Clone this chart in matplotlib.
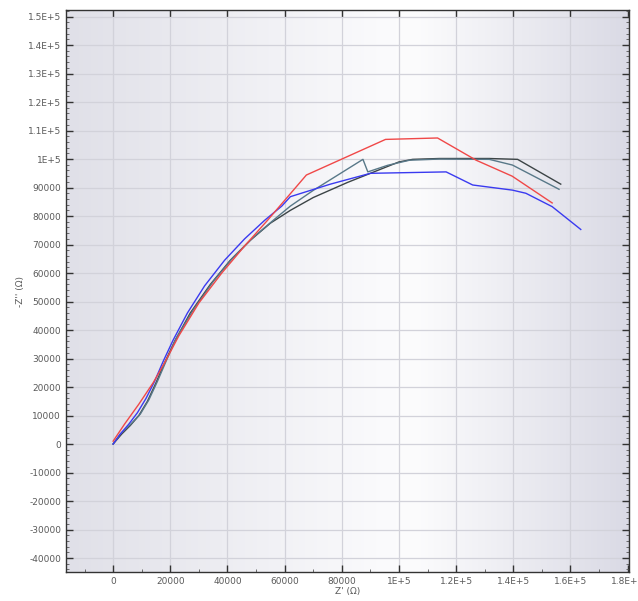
import numpy as np
import matplotlib
matplotlib.use("Agg")
import matplotlib.pyplot as plt
from matplotlib.ticker import MultipleLocator
from matplotlib.colors import LinearSegmentedColormap

# ---- data (Z' , -Z'') ----
red_x = [0, 4000, 9000, 14000, 18000, 23000, 30000, 38000, 46000, 54000, 60000, 67600, 95300, 113500, 127000, 139600, 153600]
red_y = [1000, 7000, 14000, 21500, 28500, 38000, 49500, 60000, 69500, 78500, 85500, 94400, 106900, 107400, 99600, 94000, 84600]

blue_x = [0, 2500, 5500, 8500, 11500, 14500, 17500, 21000, 26000, 32000, 39000, 46000, 53000, 59000, 62000, 76000, 90000, 116500, 125800, 139700, 144400, 153600, 163600]
blue_y = [0, 3500, 7000, 11000, 16000, 22000, 29000, 36500, 46000, 55500, 64500, 72000, 78500, 83500, 86800, 91200, 95000, 95500, 90900, 89100, 88000, 83300, 75300]

dark_x = [0, 3000, 6000, 9000, 12000, 15000, 18000, 21500, 27000, 34000, 41000, 48000, 55000, 62000, 70000, 82000, 92000, 100000, 104800, 114100, 131600, 141500, 156600]
dark_y = [0, 3500, 6500, 10000, 15000, 21500, 28500, 36000, 46000, 56000, 64500, 71500, 77500, 82000, 86500, 91800, 95800, 99000, 99900, 100200, 100200, 99900, 91200]

slate_x = [0, 2500, 6000, 9500, 12500, 15500, 18500, 22000, 28000, 35000, 42000, 49000, 56000, 62000, 70000, 87400, 89100, 96000, 103700, 114100, 131600, 139700, 156000]
slate_y = [0, 3500, 6800, 10500, 15500, 22000, 29000, 37000, 47000, 57000, 65500, 72500, 78500, 83500, 89000, 99900, 95500, 97800, 99600, 100000, 99900, 97900, 89400]

x_ticks = [0, 20000, 40000, 60000, 80000, 100000, 120000, 140000, 160000, 180000]
x_labels = ["0", "20000", "40000", "60000", "80000", "1E+5", "1.2E+5", "1.4E+5", "1.6E+5", "1.8E+5"]
y_ticks = list(range(-40000, 150001, 10000))
y_labels = [("%d" % v if abs(v) < 100000 else ("1E+5" if v == 100000 else "%.1fE+5" % (v / 100000))) for v in y_ticks]

fig = plt.figure(figsize=(6.38, 6.01), dpi=100)
ax = fig.add_axes([0.1034, 0.0483, 0.8826, 0.935])

xmin, xmax = -16500, 180500
ymin, ymax = -44900, 152300
ax.set_xlim(xmin, xmax)
ax.set_ylim(ymin, ymax)

# background gradient (horizontal)
cmap = LinearSegmentedColormap.from_list(
    "bg", [(0.0, "#e0e0e8"), (0.55, "#fafafc"), (0.62, "#fcfcfd"), (1.0, "#dadae5")])
grad = np.linspace(0, 1, 256).reshape(1, -1)
ax.imshow(grad, aspect="auto", cmap=cmap, extent=[xmin, xmax, ymin, ymax], zorder=0)

ax.set_xticks(x_ticks)
ax.set_xticklabels(x_labels)
ax.set_yticks(y_ticks)
ax.set_yticklabels(y_labels)
ax.xaxis.set_minor_locator(MultipleLocator(10000))
ax.yaxis.set_minor_locator(MultipleLocator(2000))

ax.grid(True, which="major", color="#d2d2da", linewidth=0.9, zorder=1)
ax.set_axisbelow(True)

ax.tick_params(axis="both", which="major", direction="in", length=5, width=1.0,
               labelsize=6.5, labelcolor="#5a5a5a", color="#333333",
               top=True, right=True)
ax.tick_params(axis="both", which="minor", direction="in", length=2.5, width=0.6,
               color="#555555", top=False, right=True)
ax.tick_params(axis="x", which="minor", top=False)

for side in ["left", "bottom", "top", "right"]:
    ax.spines[side].set_color("#333333")
    ax.spines[side].set_linewidth(1.0)

ax.plot(dark_x, dark_y, color="#3c4446", linewidth=1.0, zorder=3)
ax.plot(slate_x, slate_y, color="#587888", linewidth=1.0, zorder=3)
ax.plot(blue_x, blue_y, color="#3a3af0", linewidth=1.0, zorder=4)
ax.plot(red_x, red_y, color="#f04848", linewidth=1.0, zorder=4)

ax.set_xlabel("Z' (\u03a9)", fontsize=6.5, color="#5a5a5a", labelpad=1)
ax.set_ylabel("-Z'' (\u03a9)", fontsize=6.5, color="#5a5a5a", labelpad=2)

fig.savefig("out.png", dpi=100, facecolor="white")
